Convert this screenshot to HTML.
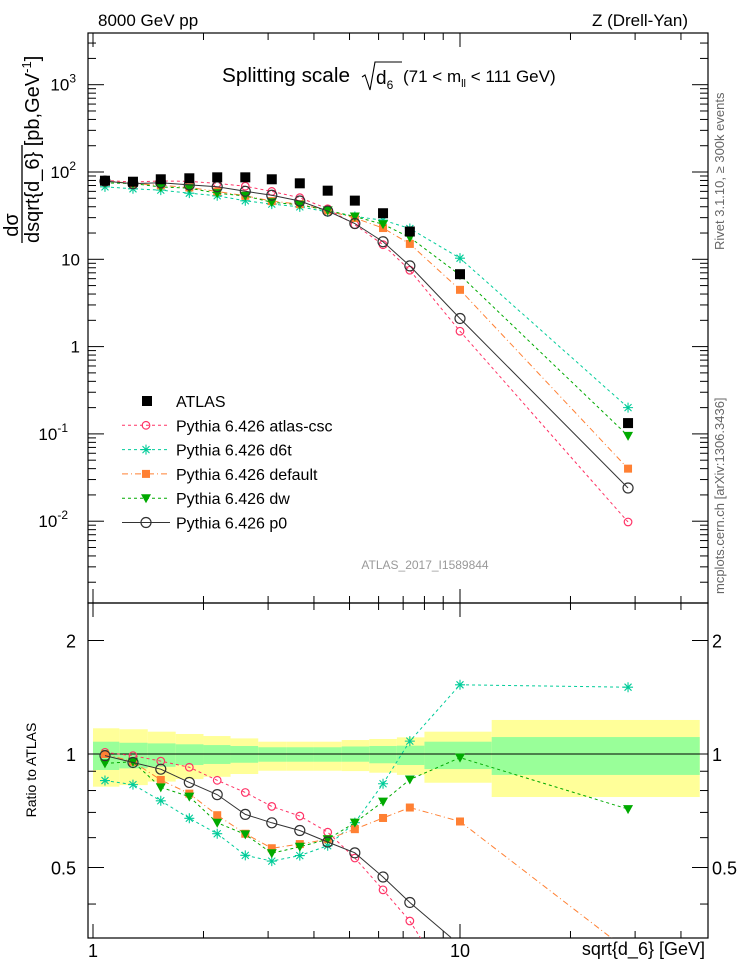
<!DOCTYPE html>
<html><head><meta charset="utf-8"><style>
html,body{margin:0;padding:0;background:#fff;overflow:hidden;width:746px;height:972px}
svg text{font-family:"Liberation Sans","DejaVu Sans",sans-serif}
</style></head><body>
<svg id="c" width="746" height="972" xmlns="http://www.w3.org/2000/svg" style="display:block">
<defs>
<clipPath id="cm"><rect x="88" y="33" width="620" height="570"/></clipPath>
<clipPath id="cr"><rect x="88" y="603" width="620" height="335"/></clipPath>
</defs>
<rect x="0" y="0" width="746" height="972" fill="#fff"/>
<g id="bands" clip-path="url(#cr)"></g>
<g id="axes"></g>
<g id="series"></g>
<text x="98" y="26" font-size="17">8000 GeV pp</text>
<text x="688" y="26" font-size="17" text-anchor="end">Z (Drell-Yan)</text>
<g>
<text x="222" y="82" font-size="20" textLength="128" lengthAdjust="spacingAndGlyphs">Splitting scale</text>
<path d="M362 77 L365 75 L370 90 L375 62 L402 62" fill="none" stroke="#000" stroke-width="1.1"/>
<text x="376" y="84" font-size="19">d<tspan font-size="12" dy="5">6</tspan></text>
<text x="403" y="82" font-size="17">(71 &lt; m<tspan font-size="11" dy="5">ll</tspan><tspan dy="-5"> &lt; 111 GeV)</tspan></text>
</g>
<text x="425" y="569" font-size="12" fill="#999" text-anchor="middle">ATLAS_2017_I1589844</text>
<text transform="translate(724,250) rotate(-90)" font-size="13" fill="#666">Rivet 3.1.10, ≥ 300k events</text>
<text transform="translate(724,594) rotate(-90)" font-size="13" fill="#666">mcplots.cern.ch [arXiv:1306.3436]</text>
<g font-size="20">
<text transform="translate(18,225) rotate(-90)" text-anchor="middle">dσ</text>
<line x1="22" y1="145" x2="22" y2="243" stroke="#000" stroke-width="1.3"/>
<text transform="translate(39,243) rotate(-90)">dsqrt{d_6} [pb,GeV<tspan font-size="13" dy="-8">-1</tspan><tspan dy="8">]</tspan></text>
</g>
<text transform="translate(36,770) rotate(-90)" font-size="14" text-anchor="middle">Ratio to ATLAS</text>
<text x="705" y="955" font-size="18" text-anchor="end">sqrt{d_6} [GeV]</text>
<g id="legend"></g>
</svg>
<script>
const xPoints=[1.078,1.285,1.53,1.83,2.18,2.6,3.07,3.66,4.36,5.17,6.17,7.3,10,28.7];
const binEdges=[1,1.18,1.41,1.68,2,2.37,2.82,3.36,4,4.76,5.66,6.73,8,12.2,45];
const atlas=[79.5,77.4,82.5,84.7,86.9,86.9,82.5,74.2,61.1,47,33.7,20.8,6.75,0.133];
const cscVals=[80.3,76.6,79.0,78.1,74.0,68.7,59.9,50.8,37.9,24.9,14.7,7.5,1.5,0.0098];
const d6tVals=[67.6,64.2,62.0,57.2,53.4,46.8,42.9,39.9,34.9,30.9,28.1,22.5,10.3,0.2];
const defVals=[79.5,73.8,70.4,66.5,59.8,53.4,46.4,42.8,36.3,29.7,22.8,15.0,4.47,0.04];
const dwVals=[75.1,73.8,67.3,65.3,57.1,53.2,45.0,42.1,36.3,30.9,25.2,17.8,6.6,0.095];
const p0Vals=[78.7,73.5,75.2,71.2,67.8,60.1,54.2,46.5,35.7,25.7,15.9,8.4,2.1,0.024];
const bandTotUp=[1.170,1.163,1.146,1.130,1.116,1.100,1.078,1.078,1.078,1.089,1.096,1.107,1.146,1.231];
const bandTotDn=[0.819,0.827,0.845,0.858,0.870,0.885,0.903,0.903,0.903,0.901,0.892,0.880,0.839,0.769];
const bandStatUp=[1.078,1.071,1.067,1.061,1.056,1.050,1.042,1.042,1.042,1.047,1.050,1.052,1.078,1.109];
const bandStatDn=[0.907,0.916,0.925,0.935,0.941,0.948,0.954,0.954,0.954,0.954,0.945,0.935,0.912,0.880];
const xTickLabels=["1","10"];

const NS="http://www.w3.org/2000/svg";
const X=v=>93+Math.log10(v)*367;
const YM=v=>172-(Math.log10(v)-2)*87.3;
const YR=v=>754-Math.log2(v)*113.5;
function mk(tag,attrs,parent){const e=document.createElementNS(NS,tag);for(const k in attrs)e.setAttribute(k,attrs[k]);parent.appendChild(e);return e;}
const axes=document.getElementById('axes'),bands=document.getElementById('bands'),series=document.getElementById('series'),legend=document.getElementById('legend');

for(let i=0;i<binEdges.length-1;i++){
 const x1=X(binEdges[i]),x2=X(binEdges[i+1]);
 const y=mk('rect',{x:x1,y:YR(bandTotUp[i]),width:x2-x1,height:YR(bandTotDn[i])-YR(bandTotUp[i]),fill:'#ffff99'},bands);
 
 
 const g=mk('rect',{x:x1,y:YR(bandStatUp[i]),width:x2-x1,height:YR(bandStatDn[i])-YR(bandStatUp[i]),fill:'#99ff99'},bands);
 
 
}
const one=mk('line',{x1:88,x2:708,y1:YR(1),y2:YR(1),stroke:'#000','stroke-width':1},bands);



const f1=mk('rect',{x:88,y:33,width:620,height:570,fill:'none',stroke:'#000','stroke-width':1.2},axes);


const f2=mk('rect',{x:88,y:603,width:620,height:335,fill:'none',stroke:'#000','stroke-width':1.2},axes);



for(let d=0;d<2;d++)for(let m=1;m<=9;m++){
 const v=m*Math.pow(10,d);if(v<1||v>47)continue;
 const x=X(v),L=m==1?14:7;
 for(const [yb,yt] of [[603,33],[938,603]]){
  mk('line',{x1:x,x2:x,y1:yb,y2:yb-L,stroke:'#000'},axes);
  mk('line',{x1:x,x2:x,y1:yt,y2:yt+L,stroke:'#000'},axes);
 }
}
xTickLabels.forEach((t,i)=>{const e=mk('text',{x:X(Math.pow(10,i)),y:957,'font-size':18,'text-anchor':'middle'},axes);e.textContent=t;
 
 });

for(let d=-3;d<=3;d++)for(let m=1;m<=9;m++){
 const v=m*Math.pow(10,d),y=YM(v);if(y<33||y>603)continue;
 const L=m==1?16:8;
 mk('line',{x1:88,x2:88+L,y1:y,y2:y,stroke:'#000'},axes);
 mk('line',{x1:708,x2:708-L,y1:y,y2:y,stroke:'#000'},axes);
}
const yl=[[3,'10','3'],[2,'10','2'],[1,'10',''],[0,'1',''],[-1,'10','-1'],[-2,'10','-2']];
yl.forEach(([d,b,s])=>{const e=mk('text',{x:s?(s.length>1?68:76):80,y:YM(Math.pow(10,d))+6,'font-size':17,'text-anchor':'end'},axes);
 e.textContent=b;if(s){const t=mk('tspan',{'font-size':12,dy:-8},e);t.textContent=s;}
 
 });

[0.4,0.5,0.6,0.7,0.8,0.9,1,2].forEach(v=>{const y=YR(v),L=(v==1||v==2||v==0.5)?16:8;
 mk('line',{x1:88,x2:88+L,y1:y,y2:y,stroke:'#000'},axes);mk('line',{x1:708,x2:708-L,y1:y,y2:y,stroke:'#000'},axes);});
[[2,'2'],[1,'1'],[0.5,'0.5']].forEach(([v,t])=>{
 const a=mk('text',{x:76,y:YR(v)+7,'font-size':18,'text-anchor':'end'},axes);a.textContent=t;
 
 
 const b=mk('text',{x:712,y:YR(v)+7,'font-size':18},axes);b.textContent=t;
 
 });

function marker(type,x,y,col,p){
 if(type=='sq') return mk('rect',{x:x-5,y:y-5,width:10,height:10,fill:col},p);
 if(type=='sqs') return mk('rect',{x:x-4,y:y-4,width:8,height:8,fill:col},p);
 if(type=='circ') return mk('circle',{cx:x,cy:y,r:3.8,fill:'none',stroke:col,'stroke-width':1.2},p);
 if(type=='bcirc') return mk('circle',{cx:x,cy:y,r:5,fill:'none',stroke:col,'stroke-width':1.2},p);
 if(type=='tri') return mk('path',{d:`M${x-5} ${y-4}L${x+5} ${y-4}L${x} ${y+5}Z`,fill:col},p);
 if(type=='star') return mk('path',{d:`M${x-5} ${y}H${x+5}M${x} ${y-5}V${y+5}M${x-3.5} ${y-3.5}L${x+3.5} ${y+3.5}M${x-3.5} ${y+3.5}L${x+3.5} ${y-3.5}`,stroke:col,'stroke-width':1.1,fill:'none'},p);
}
const S=[
 {n:'atlas-csc',v:cscVals,c:'#ff3366',m:'circ',d:'3,3'},
 {n:'d6t',v:d6tVals,c:'#00cc99',m:'star',d:'3,3'},
 {n:'default',v:defVals,c:'#ff8033',m:'sqs',d:'6,3,1,3'},
 {n:'dw',v:dwVals,c:'#00aa00',m:'tri',d:'3,3'},
 {n:'p0',v:p0Vals,c:'#333333',m:'bcirc',d:''}
];
const gm=mk('g',{'clip-path':'url(#cm)'},series),gr=mk('g',{'clip-path':'url(#cr)'},series);
S.forEach(s=>{
 const pm=s.v.map((v,i)=>X(xPoints[i])+','+YM(v)).join(' ');
 const pr=s.v.map((v,i)=>X(xPoints[i])+','+YR(v/atlas[i])).join(' ');
 const a={fill:'none',stroke:s.c,'stroke-width':1};if(s.d)a['stroke-dasharray']=s.d;
 const l1=mk('polyline',Object.assign({points:pm},a),gm);
 
 
 const l2=mk('polyline',Object.assign({points:pr},a),gr);
 
 
 s.v.forEach((v,i)=>{
  const e=marker(s.m,X(xPoints[i]),YM(v),s.c,gm);
  
  
  const r=marker(s.m,X(xPoints[i]),YR(v/atlas[i]),s.c,gr);
  
  
 });
});
atlas.forEach((v,i)=>{const e=marker('sq',X(xPoints[i]),YM(v),'#000',gm);
 
 });

const labels=['ATLAS','Pythia 6.426 atlas-csc','Pythia 6.426 d6t','Pythia 6.426 default','Pythia 6.426 dw','Pythia 6.426 p0'];
labels.forEach((t,i)=>{
 const y=401+i*24.3;
 const g=mk('g',{},legend);
 
 
 if(i==0)marker('sq',147,y,'#000',g);
 else{const s=S[i-1];const a={x1:122,x2:170,y1:y,y2:y,stroke:s.c,'stroke-width':1};if(s.d)a['stroke-dasharray']=s.d;mk('line',a,g);marker(s.m,146,y,s.c,g);}
 const e=mk('text',{x:176,y:y+6,'font-size':16},g);e.textContent=t;
});
</script>
</body></html>
